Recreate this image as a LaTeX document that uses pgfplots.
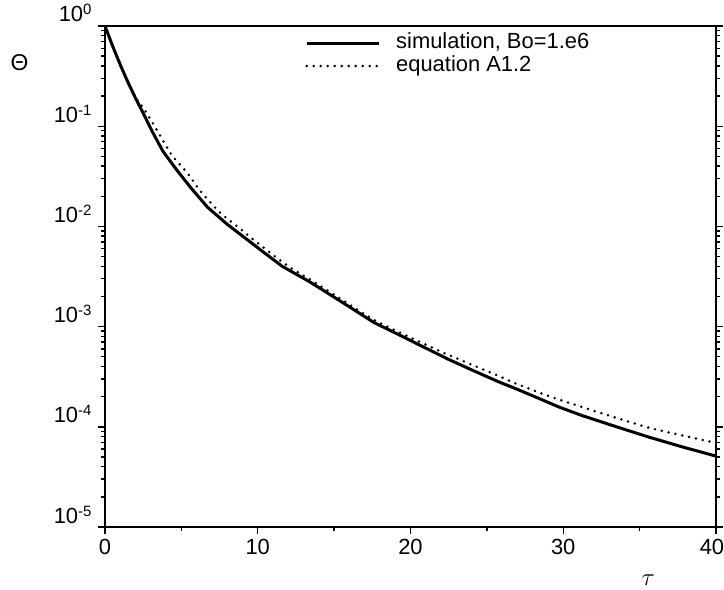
\documentclass[border=0pt]{standalone}
\usepackage{fontspec}
\setmainfont{Liberation Sans}
\usepackage{pgfplots}
\pgfplotsset{compat=1.18}

% simulation, Bo=1.e6
\pgfplotstableread{
tau theta
0.0 1.0
0.5 0.63
1.0 0.41
1.5 0.275
2.0 0.19
2.5 0.135
3.1 0.088
3.8 0.056
4.7 0.0365
5.6 0.0245
6.7 0.0156
8.0 0.0105
9.3 0.0074
10.4 0.0055
11.6 0.0040
13.4 0.0028
15.5 0.00176
17.6 0.0011
19.6 0.00078
21.7 0.00054
22.5 0.00047
24.0 0.00037
25.8 0.00028
26.9 0.00024
28.3 0.000195
29.7 0.000158
31.2 0.000130
33.4 0.000101
35.6 0.000079
37.8 0.000063
40.0 0.000051
}\simdata

% equation A1.2
\pgfplotstableread{
tau theta
1.5 0.28
2.0 0.195
2.6 0.145
3.6 0.081
4.4 0.051
5.4 0.034
6.2 0.023
7.5 0.0139
8.8 0.0096
9.9 0.0070
12.0 0.0040
13.4 0.00297
15.5 0.00186
17.6 0.00117
19.6 0.00083
21.7 0.00059
22.5 0.00052
25.8 0.00032
26.9 0.00027
29.0 0.000204
31.2 0.000158
33.4 0.000124
35.6 0.000098
37.8 0.000082
40.0 0.000069
}\eqdata

\begin{document}
\begin{tikzpicture}
\useasboundingbox (-105bp,-63bp) rectangle (619bp,527bp);
\begin{axis}[
    at={(0,0)}, anchor=south west,
    scale only axis,
    width=611bp, height=501bp,
    ymode=log,
    xmin=0, xmax=40,
    ymin=1e-5, ymax=1,
    xtick={0,10,20,30,40},
    xticklabels={0,10,20,30,\hspace*{-8bp}40},
    minor x tick num=1,
    ytick={1e-5,1e-4,1e-3,1e-2,1e-1,1},
    yticklabels={
      10\raisebox{7bp}{\fontsize{15}{15}\selectfont -5},
      10\raisebox{7bp}{\fontsize{15}{15}\selectfont -4},
      10\raisebox{7bp}{\fontsize{15}{15}\selectfont -3},
      10\raisebox{7bp}{\fontsize{15}{15}\selectfont -2},
      10\raisebox{7bp}{\fontsize{15}{15}\selectfont -1},
      10\raisebox{7bp}{\fontsize{15}{15}\selectfont 0}},
    /pgf/number format/assume math mode=true,
    tick label style={font=\fontsize{22}{24}\selectfont},
    yticklabel style={anchor=base east, yshift=4bp, xshift=-3bp},
    xticklabel style={yshift=-2bp},
    tick align=outside,
    xtick pos=bottom,
    ytick pos=both,
    yticklabel pos=left,
    major tick length=7bp,
    minor tick length=4bp,
    every tick/.style={black, line width=1.4bp},
    axis line style={line width=2.2bp},
    xlabel={$\tau$},
    xlabel style={at={(axis description cs:0.889,-0.106)}, anchor=center, font=\fontsize{27}{28}\selectfont},
    ylabel={Θ},
    ylabel style={at={(axis description cs:-0.14,0.926)}, anchor=center, rotate=-90, font=\fontsize{23}{24}\selectfont},
    legend style={at={(axis description cs:0.3273,0.943)}, anchor=west,
      draw=none, fill=none, inner sep=0pt,
      row sep=4bp, column sep=16bp,
      font=\fontsize{22}{24}\selectfont,
      nodes={inner sep=0pt, text height=15bp, text depth=4bp}},
    legend cell align=left,
    legend image code/.code={\draw[#1] (0bp,0bp) -- (72bp,0bp);},
  ]
  \addplot[black, line width=3bp] table[x=tau, y=theta] {\simdata};
  \addlegendentry{simulation, Bo=1.e6}
  \addplot[black, line width=2.8bp, line cap=round, dash pattern=on 0pt off 7bp, smooth] table[x=tau, y=theta] {\eqdata};
  \addlegendentry{equation A1.2}
\end{axis}
\end{tikzpicture}
\end{document}
